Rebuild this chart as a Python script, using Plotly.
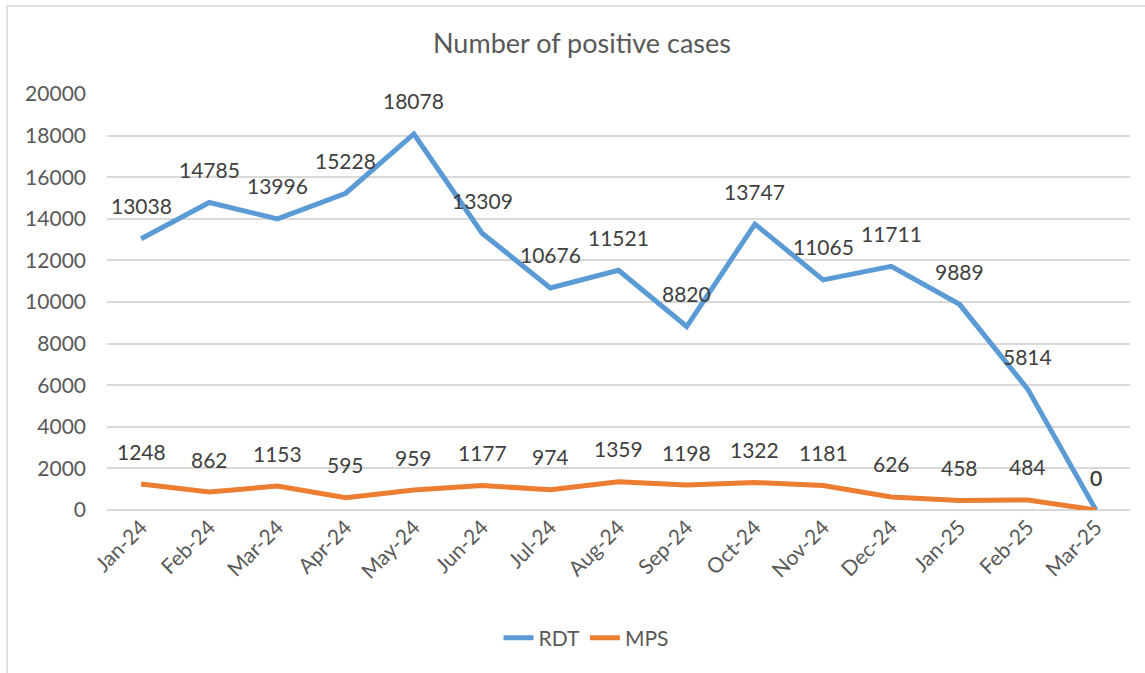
import plotly.graph_objects as go

months = ["Jan-24", "Feb-24", "Mar-24", "Apr-24", "May-24", "Jun-24", "Jul-24", "Aug-24",
          "Sep-24", "Oct-24", "Nov-24", "Dec-24", "Jan-25", "Feb-25", "Mar-25"]
rdt = [13038, 14785, 13996, 15228, 18078, 13309, 10676, 11521, 8820, 13747, 11065, 11711, 9889, 5814, 0]
mps = [1248, 862, 1153, 595, 959, 1177, 974, 1359, 1198, 1322, 1181, 626, 458, 484, 0]

BLUE = "#5B9BD5"
ORANGE = "#ED7D31"
FONT = "Lato, 'Open Sans', sans-serif"

fig = go.Figure()
fig.add_trace(go.Scatter(x=months, y=rdt, mode="lines", name="RDT",
                         line=dict(color=BLUE, width=5)))
fig.add_trace(go.Scatter(x=months, y=mps, mode="lines", name="MPS",
                         line=dict(color=ORANGE, width=5)))

annotations = []
for series in (rdt, mps):
    for m, v in zip(months, series):
        annotations.append(dict(x=m, y=v, text=str(v), showarrow=False, yshift=33,
                                font=dict(family=FONT, size=21, color="#404040")))

L, T, W, H = 107, 94, 1023, 416
shapes = [
    dict(type="line", xref="paper", yref="paper", x0=(6 - L) / W, x1=(1145 - L) / W,
         y0=(H + T - 6) / H, y1=(H + T - 6) / H, line=dict(color="#D9D9D9", width=1.5)),
    dict(type="line", xref="paper", yref="paper", x0=(7 - L) / W, x1=(7 - L) / W,
         y0=(H + T - 6) / H, y1=(H + T - 673) / H, line=dict(color="#D9D9D9", width=1.5)),
]

fig.update_layout(
    width=1145, height=673,
    margin=dict(l=L, r=1145 - L - W, t=T, b=673 - T - H),
    paper_bgcolor="white", plot_bgcolor="white",
    title=dict(text="Number of positive cases", x=(582 - L) / W, xref="paper", xanchor="center",
               y=1 - 44 / 673, yanchor="middle", yref="container",
               font=dict(family=FONT, size=27, color="#595959")),
    font=dict(family=FONT, color="#595959"),
    showlegend=True,
    legend=dict(orientation="h", x=(586 - L) / W, xanchor="center", y=(510 - 638) / H, yanchor="middle",
                font=dict(family=FONT, size=21, color="#595959"),
                traceorder="normal"),
    annotations=annotations,
    shapes=shapes,
)
fig.update_xaxes(type="category", tickangle=-45, showgrid=False, showline=False,
                 tickfont=dict(family=FONT, size=21, color="#595959"), ticks="",
                 range=[-0.5, len(months) - 0.5])
fig.update_yaxes(range=[0, 20000], dtick=2000, showgrid=True, gridcolor="#D9D9D9", gridwidth=1.5,
                 zeroline=True, zerolinecolor="#D9D9D9", zerolinewidth=1.5,
                 tickfont=dict(family=FONT, size=21, color="#595959"), ticks="", showline=False,
                 tickformat="d", ticklabelstandoff=20)

fig.write_html("out.html", config={"displayModeBar": False},
               post_script="document.body.style.margin='0';")
